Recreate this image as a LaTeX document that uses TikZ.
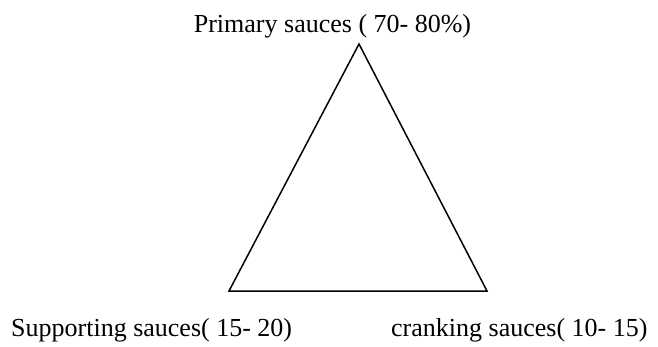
\documentclass[tikz,border=0pt]{standalone}
\usepackage{fontspec}
\setmainfont{Liberation Serif}
\begin{document}
\begin{tikzpicture}[x=1pt,y=-1pt,
  lbl/.style={inner sep=0pt,font=\fontsize{26}{30}\selectfont},
  tri/.style={line width=1.5pt,line join=miter}]
\useasboundingbox (0,0) rectangle (658,347);
\coordinate (apex) at (359,44);
\coordinate (bl) at (229,291);
\coordinate (br) at (487,291);
\draw[tri] (apex) -- (bl) -- (br) -- cycle;
\node[lbl,anchor=base] (top) at (332.5,33) {Primary sauces ( 70- 80\%)};
\node[lbl,anchor=base west] (left) at (11,336) {Supporting sauces( 15- 20)};
\node[lbl,anchor=base west] (right) at (391,336) {cranking sauces( 10- 15)};
\end{tikzpicture}
\end{document}
